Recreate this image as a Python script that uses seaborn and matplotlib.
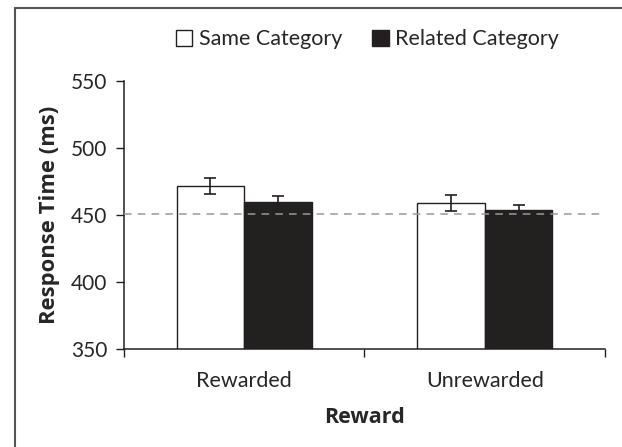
import pandas as pd
import seaborn as sns
import numpy as np
import matplotlib.pyplot as plt
from matplotlib.patches import Rectangle, Patch
from matplotlib.lines import Line2D

# values
rewards = ['Rewarded', 'Unrewarded']
conditions = ['Same Category', 'Related Category']
same_rt = [471.5, 459.0]
related_rt = [460.0, 453.5]
same_err = [6.0, 6.0]
related_err = [4.5, 4.0]
baseline = 451

df = pd.DataFrame({
    'Reward': rewards * 2,
    'Condition': [conditions[0]] * 2 + [conditions[1]] * 2,
    'RT': same_rt + related_rt,
})
errs = same_err + related_err

sns.set_style('white')
plt.rcParams['font.family'] = ['Lato', 'DejaVu Sans']
txt = '#262626'

fig = plt.figure(figsize=(6.22, 4.47), dpi=100)
ax = fig.add_axes([0.199, 0.219, 0.774, 0.6])

sns.barplot(data=df, x='Reward', y='RT', hue='Condition', order=rewards,
            hue_order=conditions, palette=['white', '#231f20'],
            edgecolor='#231f20', linewidth=1.0, width=0.56, errorbar=None,
            legend=False, ax=ax)

# error bars at the bar centres
bars = [p for p in ax.patches if isinstance(p, Rectangle)][:4]
xs = [b.get_x() + b.get_width() / 2 for b in bars]
ax.errorbar(xs, df['RT'], yerr=errs, fmt='none', ecolor='#231f20',
            elinewidth=1.2, capsize=4, capthick=1.2, zorder=5)

ax.axhline(baseline, color='#999999', ls=(0, (5, 4)), lw=1.1, zorder=4)

ax.set_ylim(350, 550)
ax.set_yticks([350, 400, 450, 500, 550])
ax.set_xlim(-0.5, 1.5)
ax.set_xticks([-0.5, 0.5, 1.5])
ax.set_xticklabels([])
ax.set_xticks([0, 1], minor=True)
ax.set_xticklabels(rewards, minor=True)
ax.tick_params(axis='x', which='major', direction='out', length=6, width=1, color='#231f20')
ax.tick_params(axis='x', which='minor', length=0, pad=16, labelsize=15.5, labelcolor=txt)
ax.tick_params(axis='y', direction='out', length=6, width=1, color='#231f20',
               labelsize=15, labelcolor=txt, pad=6)
ax.tick_params(bottom=True, left=True, which='major')

for s in ['top', 'right']:
    ax.spines[s].set_visible(False)
for s in ['left', 'bottom']:
    ax.spines[s].set_color('#231f20')
    ax.spines[s].set_linewidth(1.1)

bold = dict(family=['Open Sans', 'DejaVu Sans'], fontweight='bold', color=txt)
ax.set_xlabel('Reward', fontsize=15.5, labelpad=11, **bold)
ax.set_ylabel('Response Time (ms)', fontsize=15.8, labelpad=8, **bold)

handles = [Patch(facecolor='white', edgecolor='#231f20', lw=1),
           Patch(facecolor='#231f20', edgecolor='#231f20', lw=1)]
fig.legend(handles, conditions, loc='center', bbox_to_anchor=(0.591, 0.912), ncol=2,
           frameon=False, fontsize=15.5, handlelength=0.75, handleheight=0.75,
           handletextpad=0.3, columnspacing=1.4, labelcolor=txt)

# partial frame around the figure (top and left edges only show)
fig.add_artist(Line2D([0.0235, 1.0], [0.983, 0.983], transform=fig.transFigure,
                      color='#555555', lw=1.5))
fig.add_artist(Line2D([0.0235, 0.0235], [0.0, 0.983], transform=fig.transFigure,
                      color='#555555', lw=1.5))

fig.savefig('out.png', dpi=100)
